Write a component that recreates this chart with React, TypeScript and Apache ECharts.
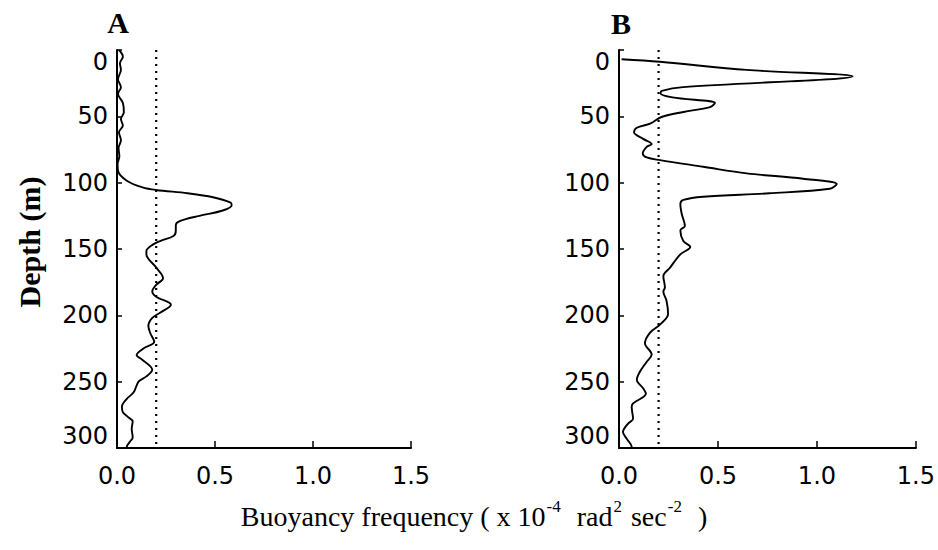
import React, { useEffect, useRef } from "react";
import * as echarts from "echarts";

// Panel A: [buoyancy frequency (x1e-4 rad^2 s^-2), depth (m)]
const profileA: number[][] = [
  [0.01, 0], [0.03, 5], [0.015, 10], [0.02, 15], [0.005, 22], [0.02, 28], [0.005, 33],
  [0.03, 40], [0.035, 47], [0.02, 52], [0.03, 57], [0.01, 62], [0.02, 68], [0.008, 74],
  [0.012, 80], [0.003, 86], [0.005, 91], [0.05, 98.5], [0.13, 103.5], [0.2, 105.5],
  [0.36, 108], [0.49, 111], [0.58, 115], [0.585, 117], [0.54, 121], [0.42, 125],
  [0.32, 129], [0.3, 132], [0.3, 136], [0.29, 140], [0.22, 144], [0.185, 146.5],
  [0.15, 151.5], [0.15, 154], [0.2, 164], [0.235, 172], [0.2, 177], [0.18, 182],
  [0.2, 186], [0.275, 192], [0.22, 198], [0.18, 202], [0.16, 208], [0.17, 213.5],
  [0.19, 220], [0.135, 225], [0.1, 230], [0.125, 233], [0.18, 241], [0.15, 246],
  [0.11, 250], [0.085, 258], [0.05, 263], [0.025, 269], [0.03, 273], [0.055, 276.5],
  [0.08, 280], [0.075, 285.5], [0.08, 292], [0.065, 295.5], [0.05, 299], [0.05, 300],
];

// Panel B
const profileB: number[][] = [
  [0.013, 7], [0.207, 8.9], [0.645, 15], [1.18, 19.7], [0.324, 28], [0.216, 30.8],
  [0.21, 32.7], [0.27, 35.7], [0.485, 40], [0.46, 43], [0.325, 46.7], [0.215, 50.5],
  [0.157, 55.5], [0.09, 58.6], [0.076, 62], [0.122, 67], [0.165, 71], [0.14, 73],
  [0.12, 78], [0.14, 81], [0.207, 83], [0.425, 88], [0.645, 93], [0.93, 97],
  [1.1, 101], [1.065, 104.6], [0.76, 108], [0.425, 110.6], [0.325, 113], [0.31, 116],
  [0.317, 123.6], [0.333, 132.6], [0.31, 136], [0.325, 144], [0.36, 148.5],
  [0.31, 154], [0.258, 164], [0.224, 170.5], [0.232, 179], [0.224, 182], [0.24, 189],
  [0.248, 199], [0.207, 207], [0.157, 213], [0.131, 221], [0.165, 229.6], [0.14, 235],
  [0.106, 242.4], [0.09, 248.5], [0.122, 255], [0.136, 259], [0.071, 266.4],
  [0.064, 269], [0.071, 278], [0.046, 281.6], [0.02, 288], [0.039, 293], [0.064, 299],
  [0.064, 300],
];

const referenceLevel = 0.2;
const depthRange = [0, 300];
const freqRange = [0, 1.5];
const panelTitles = ["A", "B"];
const yAxisTitle = "Depth (m)";

export default function App() {
  const ref = useRef<HTMLDivElement>(null);
  useEffect(() => {
    if (!ref.current) return;
    const chart = echarts.init(ref.current, null, { renderer: "svg" });
    const tickFont = "DejaVu Sans";
    const serif = "Liberation Serif";
    const grids = [
      { left: 117, top: 50, width: 294, height: 398 },
      { left: 619, top: 50, width: 297, height: 398 },
    ];
    const xAxes = grids.map((_, i) => ({
      type: "value",
      gridIndex: i,
      position: "bottom",
      min: freqRange[0],
      max: freqRange[1],
      interval: 0.5,
      axisLine: { show: true, onZero: false, lineStyle: { color: "#000", width: 2 } },
      axisTick: { show: true, inside: true, length: 7, lineStyle: { color: "#000", width: 1.5 } },
      axisLabel: {
        color: "#000",
        fontFamily: tickFont,
        fontSize: 24,
        margin: 16,
        formatter: (v: number) => v.toFixed(1),
      },
      splitLine: { show: false },
    }));
    const yAxes = grids.map((_, i) => ({
      type: "value",
      gridIndex: i,
      position: "left",
      inverse: true,
      min: depthRange[0],
      max: depthRange[1],
      interval: 50,
      axisLine: { show: true, onZero: false, lineStyle: { color: "#000", width: 2 } },
      axisTick: { show: true, inside: true, length: 5, lineStyle: { color: "#000", width: 1.5 } },
      axisLabel: {
        color: "#000",
        fontFamily: tickFont,
        fontSize: 24,
        margin: 9,
        verticalAlignMinLabel: "top",
        verticalAlignMaxLabel: "bottom",
      },
      splitLine: { show: false },
    }));
    const profiles = [profileA, profileB];
    const series: any[] = [];
    profiles.forEach((p, i) => {
      series.push({
        type: "line",
        xAxisIndex: i,
        yAxisIndex: i,
        data: p,
        smooth: 0.35,
        showSymbol: false,
        clip: true,
        lineStyle: { color: "#000", width: 1.9 },
      });
      series.push({
        type: "line",
        xAxisIndex: i,
        yAxisIndex: i,
        data: [
          [referenceLevel, depthRange[0]],
          [referenceLevel, depthRange[1]],
        ],
        showSymbol: false,
        lineStyle: { color: "#000", width: 2.2, type: [2, 5] },
      });
    });
    chart.setOption({
      animation: false,
      backgroundColor: "#fff",
      grid: grids,
      xAxis: xAxes,
      yAxis: yAxes,
      series,
      graphic: [
        {
          type: "text",
          x: 118,
          y: 22,
          style: {
            text: panelTitles[0],
            font: `bold 30px ${serif}`,
            fill: "#000",
            align: "center",
            verticalAlign: "middle",
          },
        },
        {
          type: "text",
          x: 621,
          y: 23,
          style: {
            text: panelTitles[1],
            font: `bold 30px ${serif}`,
            fill: "#000",
            align: "center",
            verticalAlign: "middle",
          },
        },
        {
          type: "text",
          x: 29,
          y: 242,
          rotation: Math.PI / 2,
          style: {
            text: yAxisTitle,
            font: `bold 30px ${serif}`,
            fill: "#000",
            align: "center",
            verticalAlign: "middle",
          },
        },
        {
          type: "text",
          x: 474,
          y: 516,
          style: {
            text: "{n|Buoyancy frequency ( x 10}{s|-4}{g|rad}{s|2}{h|sec}{s|-2}{h| )}",
            fill: "#000",
            align: "center",
            verticalAlign: "middle",
            rich: {
              n: { fontFamily: serif, fontSize: 28, fill: "#000", lineHeight: 34 },
              g: { fontFamily: serif, fontSize: 28, fill: "#000", lineHeight: 34, padding: [0, 0, 0, 16] },
              h: { fontFamily: serif, fontSize: 28, fill: "#000", lineHeight: 34, padding: [0, 0, 0, 9] },
              s: { fontFamily: serif, fontSize: 17, fill: "#000", lineHeight: 34, padding: [0, 0, 20, 1] },
            },
          },
        },
      ],
    });
    return () => chart.dispose();
  }, []);
  return (
    <div
      ref={ref}
      style={{ position: "fixed", left: 0, top: 0, width: 938, height: 550 }}
    />
  );
}
